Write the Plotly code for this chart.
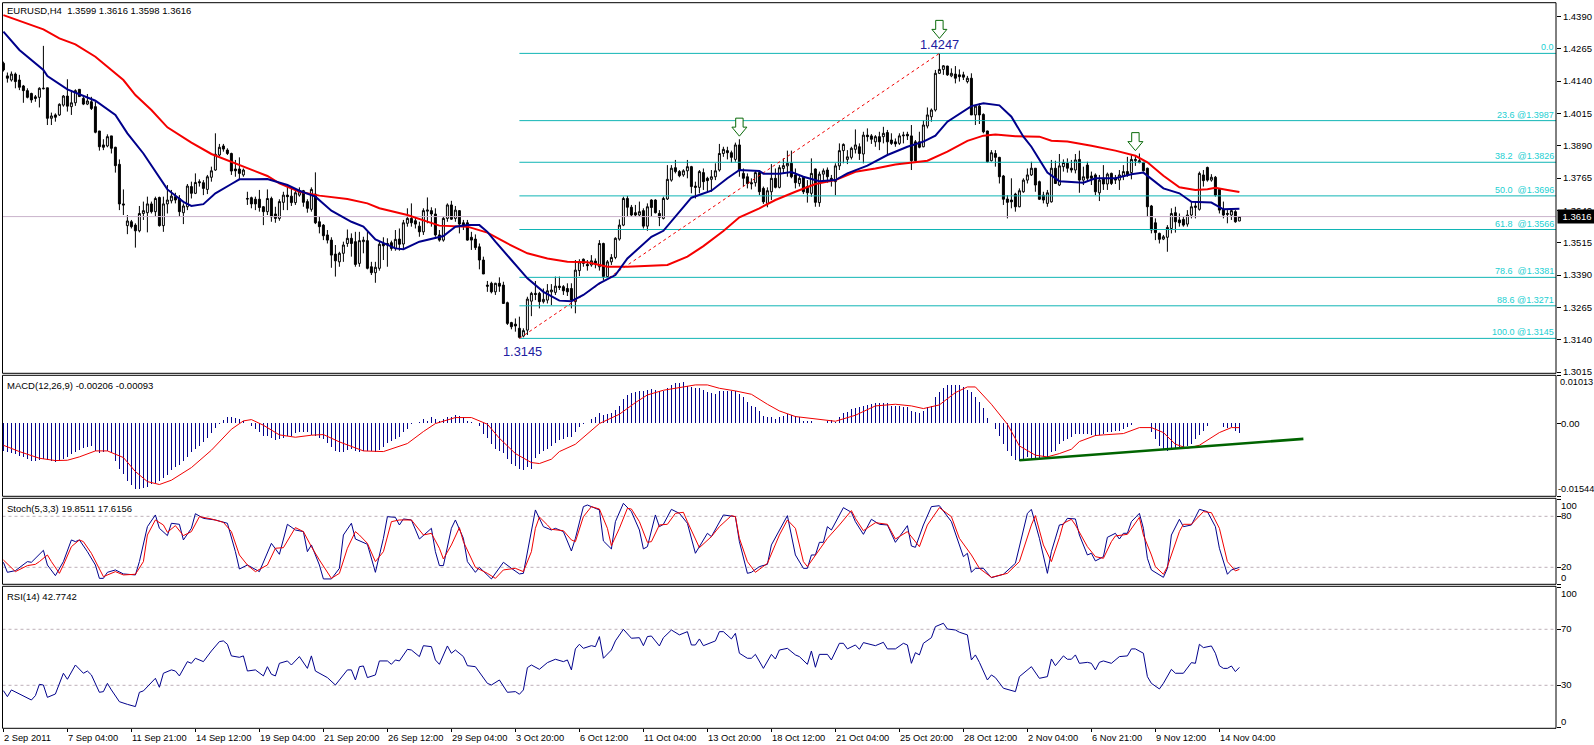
import plotly.graph_objects as go

opens = [
1.4209,1.4160,1.4144,1.4167,1.4144,1.4121,1.4103,1.4092,1.4079,1.4077,
1.4110,1.4114,1.3996,1.4009,1.4009,1.4047,1.4082,1.4041,1.4056,1.4108,
1.4073,1.4051,1.4060,1.4041,1.3947,1.3893,1.3889,1.3928,1.3884,1.3818,
1.3665,1.3581,1.3596,1.3583,1.3561,1.3628,1.3631,1.3665,1.3635,1.3690,
1.3581,1.3665,1.3677,1.3693,1.3686,1.3631,1.3654,1.3732,1.3706,1.3751,
1.3747,1.3721,1.3768,1.3796,1.3854,1.3889,1.3873,1.3860,1.3800,1.3800,
1.3777,1.3686,1.3689,1.3683,1.3683,1.3654,1.3635,1.3686,1.3626,1.3609,
1.3671,1.3699,1.3695,1.3670,1.3699,1.3716,1.3674,1.3644,1.3703,1.3596,
1.3583,1.3545,1.3525,1.3471,1.3441,1.3474,1.3512,1.3532,1.3519,1.3435,
1.3519,1.3523,1.3422,1.3399,1.3416,1.3512,1.3512,1.3515,1.3493,1.3529,
1.3510,1.3590,1.3609,1.3600,1.3579,1.3557,1.3637,1.3639,1.3626,1.3545,
1.3525,1.3609,1.3661,1.3609,1.3639,1.3592,1.3592,1.3536,1.3529,1.3499,
1.3448,1.3351,1.3358,1.3325,1.3358,1.3351,1.3283,1.3206,1.3200,1.3184,
1.3154,1.3177,1.3289,1.3319,1.3319,1.3287,1.3293,1.3325,1.3323,1.3347,
1.3345,1.3338,1.3338,1.3287,1.3407,1.3451,1.3431,1.3429,1.3444,1.3422,
1.3512,1.3384,1.3441,1.3458,1.3529,1.3583,1.3686,1.3652,1.3631,1.3622,
1.3639,1.3579,1.3680,1.3680,1.3628,1.3609,1.3684,1.3757,1.3805,1.3790,
1.3777,1.3793,1.3809,1.3734,1.3729,1.3786,1.3764,1.3760,1.3770,1.3796,
1.3860,1.3871,1.3863,1.3837,1.3893,1.3783,1.3770,1.3747,1.3747,1.3786,
1.3725,1.3667,1.3712,1.3764,1.3729,1.3802,1.3812,1.3822,1.3777,1.3744,
1.3768,1.3732,1.3706,1.3800,1.3670,1.3780,1.3796,1.3764,1.3751,1.3812,
1.3871,1.3837,1.3845,1.3876,1.3886,1.3858,1.3931,1.3928,1.3905,1.3925,
1.3925,1.3941,1.3912,1.3905,1.3899,1.3928,1.3934,1.3928,1.3905,1.3905,
1.3886,1.3966,1.4002,1.4028,1.4170,1.4185,1.4198,1.4160,1.4167,1.4164,
1.4164,1.4138,1.4151,1.4009,1.4043,1.4011,1.3947,1.3832,1.3860,1.3845,
1.3773,1.3684,1.3680,1.3703,1.3654,1.3712,1.3757,1.3777,1.3803,1.3751,
1.3699,1.3667,1.3673,1.3803,1.3738,1.3809,1.3822,1.3803,1.3796,1.3837,
1.3757,1.3815,1.3773,1.3777,1.3708,1.3764,1.3742,1.3783,1.3764,1.3757,
1.3773,1.3790,1.3786,1.3832,1.3832,1.3825,1.3803,1.3657,1.3592,1.3551,
1.3529,1.3536,1.3570,1.3631,1.3603,1.3605,1.3587,1.3622,1.3651,1.3644,
1.3777,1.3806,1.3757,1.3768,1.3721,1.3644,1.3628,1.3622,1.3635,1.3599]

highs = [
1.4215,1.4173,1.4177,1.4173,1.4164,1.4125,1.4112,1.4095,1.4086,1.4116,
1.4276,1.4114,1.4018,1.4015,1.4054,1.4086,1.4147,1.4105,1.4108,1.4108,
1.4086,1.4090,1.4079,1.4060,1.3947,1.3915,1.3934,1.3928,1.3886,1.3837,
1.3721,1.3622,1.3603,1.3590,1.3657,1.3674,1.3693,1.3674,1.3693,1.3693,
1.3693,1.3738,1.3719,1.3708,1.3699,1.3667,1.3742,1.3751,1.3783,1.3760,
1.3757,1.3777,1.3809,1.3938,1.3897,1.3897,1.3880,1.3863,1.3835,1.3845,
1.3802,1.3712,1.3693,1.3693,1.3719,1.3657,1.3721,1.3693,1.3654,1.3683,
1.3712,1.3738,1.3725,1.3725,1.3729,1.3719,1.3683,1.3729,1.3787,1.3618,
1.3587,1.3564,1.3536,1.3506,1.3480,1.3519,1.3566,1.3551,1.3557,1.3557,
1.3538,1.3557,1.3441,1.3441,1.3519,1.3536,1.3532,1.3523,1.3564,1.3570,
1.3603,1.3648,1.3667,1.3615,1.3596,1.3648,1.3690,1.3652,1.3648,1.3564,
1.3615,1.3667,1.3677,1.3657,1.3641,1.3603,1.3603,1.3557,1.3547,1.3512,
1.3461,1.3367,1.3364,1.3360,1.3381,1.3364,1.3287,1.3209,1.3222,1.3229,
1.3184,1.3306,1.3325,1.3367,1.3325,1.3338,1.3355,1.3355,1.3384,1.3384,
1.3351,1.3358,1.3358,1.3448,1.3451,1.3454,1.3448,1.3467,1.3454,1.3525,
1.3515,1.3448,1.3471,1.3536,1.3605,1.3693,1.3696,1.3661,1.3661,1.3674,
1.3648,1.3667,1.3683,1.3683,1.3641,1.3693,1.3815,1.3815,1.3835,1.3796,
1.3799,1.3835,1.3812,1.3751,1.3796,1.3802,1.3770,1.3796,1.3822,1.3897,
1.3886,1.3886,1.3871,1.3902,1.3915,1.3802,1.3783,1.3764,1.3796,1.3790,
1.3732,1.3729,1.3819,1.3802,1.3815,1.3841,1.3871,1.3871,1.3802,1.3777,
1.3770,1.3757,1.3841,1.3802,1.3790,1.3802,1.3806,1.3777,1.3822,1.3899,
1.3899,1.3873,1.3886,1.3953,1.3899,1.3944,1.3957,1.3935,1.3931,1.3944,
1.3963,1.3951,1.3938,1.3918,1.3938,1.3944,1.3944,1.3970,1.3912,1.3944,
1.3989,1.4038,1.4034,1.4183,1.4247,1.4202,1.4199,1.4189,1.4198,1.4185,
1.4176,1.4160,1.4170,1.4047,1.4054,1.4015,1.3948,1.3873,1.3873,1.3847,
1.3777,1.3699,1.3764,1.3708,1.3725,1.3764,1.3802,1.3828,1.3802,1.3755,
1.3712,1.3719,1.3835,1.3832,1.3858,1.3837,1.3841,1.3835,1.3858,1.3871,
1.3809,1.3828,1.3790,1.3783,1.3777,1.3815,1.3786,1.3786,1.3777,1.3796,
1.3815,1.3847,1.3854,1.3854,1.3860,1.3828,1.3805,1.3661,1.3609,1.3554,
1.3545,1.3583,1.3648,1.3654,1.3628,1.3615,1.3641,1.3674,1.3674,1.3790,
1.3796,1.3809,1.3780,1.3773,1.3725,1.3674,1.3641,1.3644,1.3641,1.3616]

lows = [
1.4177,1.4134,1.4138,1.4112,1.4105,1.4056,1.4073,1.4056,1.4060,1.4038,
1.4108,1.3970,1.3970,1.3983,1.4005,1.4041,1.4022,1.4009,1.4044,1.4080,
1.4047,1.4047,1.4028,1.3938,1.3871,1.3873,1.3884,1.3860,1.3786,1.3641,
1.3622,1.3548,1.3570,1.3496,1.3555,1.3603,1.3555,1.3628,1.3615,1.3577,
1.3557,1.3628,1.3667,1.3667,1.3615,1.3587,1.3641,1.3686,1.3703,1.3732,
1.3699,1.3703,1.3751,1.3793,1.3850,1.3867,1.3854,1.3777,1.3770,1.3757,
1.3770,1.3661,1.3648,1.3641,1.3635,1.3583,1.3622,1.3596,1.3592,1.3600,
1.3641,1.3641,1.3657,1.3661,1.3693,1.3654,1.3631,1.3635,1.3587,1.3551,
1.3525,1.3512,1.3418,1.3384,1.3422,1.3441,1.3499,1.3461,1.3422,1.3422,
1.3474,1.3412,1.3390,1.3360,1.3407,1.3448,1.3422,1.3484,1.3484,1.3484,
1.3493,1.3577,1.3577,1.3570,1.3538,1.3545,1.3590,1.3577,1.3538,1.3519,
1.3519,1.3596,1.3603,1.3596,1.3551,1.3564,1.3523,1.3487,1.3487,1.3412,
1.3394,1.3325,1.3319,1.3313,1.3325,1.3278,1.3197,1.3180,1.3171,1.3145,
1.3149,1.3158,1.3231,1.3293,1.3261,1.3280,1.3280,1.3274,1.3313,1.3332,
1.3313,1.3309,1.3261,1.3242,1.3386,1.3422,1.3407,1.3422,1.3416,1.3407,
1.3371,1.3381,1.3429,1.3451,1.3523,1.3579,1.3615,1.3615,1.3615,1.3615,
1.3570,1.3561,1.3615,1.3628,1.3579,1.3605,1.3680,1.3751,1.3783,1.3768,
1.3770,1.3764,1.3706,1.3686,1.3706,1.3719,1.3712,1.3712,1.3757,1.3790,
1.3847,1.3837,1.3824,1.3828,1.3770,1.3732,1.3725,1.3721,1.3732,1.3699,
1.3665,1.3652,1.3680,1.3725,1.3725,1.3783,1.3770,1.3764,1.3725,1.3732,
1.3703,1.3670,1.3693,1.3654,1.3654,1.3757,1.3747,1.3732,1.3699,1.3796,
1.3822,1.3819,1.3837,1.3860,1.3835,1.3822,1.3906,1.3897,1.3886,1.3873,
1.3899,1.3854,1.3893,1.3886,1.3893,1.3899,1.3912,1.3796,1.3828,1.3880,
1.3884,1.3957,1.3983,1.4022,1.4167,1.4164,1.4160,1.4155,1.4131,1.4138,
1.4144,1.4131,1.4009,1.3970,1.3974,1.3938,1.3824,1.3829,1.3809,1.3744,
1.3661,1.3609,1.3648,1.3635,1.3652,1.3708,1.3744,1.3773,1.3712,1.3680,
1.3667,1.3654,1.3670,1.3742,1.3734,1.3790,1.3786,1.3786,1.3783,1.3708,
1.3738,1.3751,1.3738,1.3699,1.3676,1.3719,1.3719,1.3738,1.3742,1.3719,
1.3757,1.3770,1.3760,1.3812,1.3822,1.3790,1.3615,1.3551,1.3525,1.3512,
1.3525,1.3480,1.3551,1.3554,1.3577,1.3577,1.3577,1.3609,1.3609,1.3639,
1.3732,1.3751,1.3751,1.3693,1.3628,1.3609,1.3590,1.3603,1.3592,1.3598]

closes = [
1.4183,1.4151,1.4167,1.4138,1.4116,1.4103,1.4077,1.4067,1.4073,1.4112,
1.4112,1.3996,1.4005,1.4000,1.4050,1.4082,1.4043,1.4056,1.4103,1.4080,
1.4051,1.4063,1.4034,1.3942,1.3886,1.3884,1.3925,1.3880,1.3813,1.3665,
1.3661,1.3599,1.3577,1.3561,1.3628,1.3639,1.3665,1.3635,1.3686,1.3581,
1.3665,1.3680,1.3695,1.3680,1.3635,1.3657,1.3734,1.3706,1.3748,1.3747,
1.3725,1.3770,1.3793,1.3857,1.3884,1.3877,1.3860,1.3792,1.3793,1.3783,
1.3796,1.3684,1.3665,1.3665,1.3651,1.3635,1.3686,1.3615,1.3609,1.3674,
1.3699,1.3693,1.3670,1.3708,1.3712,1.3671,1.3648,1.3721,1.3592,1.3577,
1.3542,1.3525,1.3467,1.3445,1.3474,1.3506,1.3532,1.3512,1.3431,1.3523,
1.3525,1.3416,1.3399,1.3420,1.3509,1.3503,1.3506,1.3493,1.3528,1.3509,
1.3592,1.3609,1.3592,1.3587,1.3557,1.3639,1.3641,1.3626,1.3545,1.3525,
1.3609,1.3661,1.3606,1.3641,1.3587,1.3583,1.3525,1.3525,1.3496,1.3448,
1.3394,1.3347,1.3325,1.3358,1.3347,1.3280,1.3203,1.3190,1.3193,1.3149,
1.3175,1.3297,1.3319,1.3315,1.3287,1.3296,1.3329,1.3332,1.3347,1.3342,
1.3329,1.3325,1.3293,1.3409,1.3441,1.3435,1.3426,1.3445,1.3435,1.3512,
1.3384,1.3441,1.3458,1.3532,1.3583,1.3686,1.3652,1.3622,1.3622,1.3635,
1.3579,1.3654,1.3651,1.3631,1.3613,1.3686,1.3760,1.3803,1.3790,1.3774,
1.3793,1.3809,1.3732,1.3729,1.3790,1.3751,1.3755,1.3770,1.3793,1.3860,
1.3876,1.3863,1.3845,1.3893,1.3796,1.3764,1.3744,1.3743,1.3786,1.3712,
1.3673,1.3716,1.3764,1.3729,1.3805,1.3813,1.3822,1.3770,1.3747,1.3764,
1.3712,1.3708,1.3783,1.3671,1.3780,1.3793,1.3770,1.3757,1.3812,1.3871,
1.3895,1.3847,1.3880,1.3893,1.3860,1.3931,1.3925,1.3915,1.3925,1.3905,
1.3938,1.3905,1.3899,1.3897,1.3928,1.3931,1.3928,1.3832,1.3832,1.3884,
1.3970,1.4009,1.4028,1.4170,1.4185,1.4199,1.4164,1.4170,1.4151,1.4157,
1.4155,1.4151,1.4009,1.4043,1.4009,1.3944,1.3828,1.3863,1.3845,1.3770,
1.3683,1.3671,1.3673,1.3654,1.3716,1.3757,1.3777,1.3803,1.3738,1.3683,
1.3680,1.3708,1.3803,1.3744,1.3812,1.3825,1.3803,1.3796,1.3835,1.3757,
1.3770,1.3764,1.3764,1.3712,1.3757,1.3742,1.3780,1.3744,1.3757,1.3777,
1.3790,1.3777,1.3837,1.3837,1.3825,1.3793,1.3654,1.3564,1.3554,1.3528,
1.3538,1.3574,1.3628,1.3596,1.3592,1.3583,1.3622,1.3654,1.3657,1.3783,
1.3755,1.3757,1.3768,1.3699,1.3641,1.3622,1.3625,1.3639,1.3596,1.3616]

ma20_bars = [0,4,10,11,16,23,28,31,35,38,41,45,47,50,53,57,59,66,71,74,78,82,87,90,93,98,100,104,110,113,116,119,121,123,127,131,
135,139,142,145,149,153,156,162,165,169,172,177,181,184,189,190,194,197,200,204,208,211,216,221,226,230,233,236,242,245,249,252,255,257,259,261,264,270,273,278,282,285,290,294,297,302,305,309]
ma20_vals = [1.4331,1.4260,1.4183,1.4159,1.4108,1.4064,1.4009,1.3938,1.3860,1.3790,1.3721,1.3673,1.3657,1.3664,1.3706,1.3742,1.3760,1.3761,1.3738,1.3716,1.3693,1.3639,1.3596,1.3577,1.3528,1.3493,1.3490,1.3519,1.3541,1.3577,1.3583,1.3583,1.3557,1.3519,1.3448,1.3377,
1.3325,1.3291,1.3289,1.3313,1.3358,1.3390,1.3454,1.3538,1.3561,1.3635,1.3689,1.3716,1.3764,1.3796,1.3792,1.3782,1.3782,1.3788,1.3770,1.3753,1.3757,1.3783,1.3813,1.3854,1.3886,1.3906,1.3929,1.3983,1.4043,1.4054,1.4046,1.4002,1.3925,1.3886,1.3837,1.3786,1.3753,1.3747,1.3764,1.3764,1.3780,1.3786,1.3725,1.3706,1.3673,1.3670,1.3644,1.3646]

ma50_bars = [0,4,10,14,18,23,27,30,33,37,41,47,52,58,66,69,74,79,86,91,94,101,105,109,116,121,126,131,136,141,146,151,156,162,166,171,175,180,184,189,193,198,203,208,213,218,223,231,236,241,245,248,253,259,262,266,272,278,283,286,290,294,298,301,303,306,309]
ma50_vals = [1.4395,1.4373,1.4340,1.4305,1.4282,1.4234,1.4183,1.4144,1.4086,1.4028,1.3961,1.3902,1.3858,1.3822,1.3773,1.3744,1.3712,1.3697,1.3684,1.3667,1.3648,1.3622,1.3600,1.3581,1.3577,1.3554,1.3512,1.3474,1.3454,1.3441,1.3439,1.3422,1.3422,1.3427,1.3429,1.3461,1.3502,1.3560,1.3613,1.3648,1.3680,1.3712,1.3742,1.3757,1.3789,1.3802,1.3817,1.3832,1.3867,1.3909,1.3929,1.3933,1.3927,1.3925,1.3909,1.3906,1.3890,1.3871,1.3851,1.3826,1.3774,1.3729,1.3719,1.3722,1.3727,1.3719,1.3711]

macd_hist = [
-.00584,-.00620,-.00641,-.00655,-.00690,-.00725,-.00760,-.00796,-.00810,-.00781,
-.00760,-.00781,-.00810,-.00831,-.00810,-.00760,-.00711,-.00655,-.00620,-.00570,
-.00528,-.00500,-.00479,-.00598,-.00641,-.00620,-.00598,-.00641,-.00796,-.00972,
-.01077,-.01232,-.01302,-.01394,-.01394,-.01373,-.01345,-.01288,-.01274,-.01232,
-.01162,-.01091,-.00993,-.00936,-.00880,-.00796,-.00711,-.00620,-.00549,-.00479,
-.00408,-.00317,-.00211,-.00106,-.00021,.00063,.00120,.00120,.00106,.00085,
.00035,-.00007,-.00070,-.00127,-.00197,-.00268,-.00268,-.00317,-.00359,-.00338,
-.00317,-.00268,-.00268,-.00211,-.00197,-.00197,-.00197,-.00246,-.00268,-.00317,
-.00338,-.00429,-.00514,-.00598,-.00620,-.00620,-.00570,-.00549,-.00598,-.00620,
-.00598,-.00598,-.00598,-.00620,-.00570,-.00514,-.00429,-.00373,-.00338,-.00303,
-.00197,-.00127,-.00021,-.00007,.00014,.00085,.00049,.00120,.00085,.00049,
.00085,.00134,.00120,.00169,.00141,.00120,.00049,.00014,-.00007,-.00056,
-.00232,-.00317,-.00444,-.00549,-.00584,-.00641,-.00760,-.00866,-.00901,-.00972,
-.00993,-.00936,-.00972,-.00739,-.00655,-.00598,-.00549,-.00479,-.00429,-.00359,
-.00338,-.00289,-.00289,-.00197,-.00092,-.00021,0,.00085,.00120,.00204,
.00169,.00190,.00211,.00275,.00366,.00507,.00591,.00634,.00662,.00669,
.00669,.00697,.00718,.00697,.00669,.00683,.00739,.00810,.00845,.00852,
.00859,.00788,.00753,.00739,.00739,.00697,.00648,.00627,.00612,.00669,
.00683,.00669,.00683,.00683,.00612,.00542,.00436,.00366,.00331,.00260,
.00155,.00120,.00120,.00085,.00120,.00155,.00190,.00176,.00155,.00120,
.00049,.00035,.00049,0,0,.00007,.00035,.00063,.00014,.00120,
.00204,.00225,.00296,.00317,.00331,.00359,.00387,.00401,.00415,.00415,
.00415,.00415,.00366,.00366,.00366,.00331,.00345,.00246,.00225,.00204,
.00260,.00331,.00366,.00542,.00648,.00739,.00803,.00810,.00810,.00810,
.00767,.00697,.00648,.00542,.00436,.00317,.00106,0,-.00127,-.00268,
-.00444,-.00598,-.00690,-.00781,-.00810,-.00796,-.00711,-.00760,-.00760,-.00760,
-.00725,-.00711,-.00620,-.00584,-.00444,-.00387,-.00338,-.00289,-.00232,-.00232,
-.00232,-.00232,-.00246,-.00268,-.00246,-.00232,-.00197,-.00183,-.00162,-.00162,
-.00127,-.00077,-.00035,0,.00007,.00007,-.00007,-.00197,-.00338,-.00479,
-.00549,-.00598,-.00570,-.00549,-.00514,-.00514,-.00479,-.00444,-.00338,-.00246,
-.00162,-.00056,0,-.00007,-.00007,-.00077,-.00106,-.00092,-.00162,-.00206]

signal_bars = [0,4,9,13,16,19,23,26,30,33,36,39,42,47,52,57,60,62,65,69,73,77,80,84,90,95,101,105,108,113,117,121,124,128,
132,134,137,139,143,146,149,154,158,161,165,170,173,176,179,183,187,191,194,198,203,208,213,218,223,227,230,234,238,241,243,247,251,254,258,261,264,
267,269,273,275,280,284,287,290,293,296,299,304,307,309]
signal_vals = [-.00465,-.00599,-.00740,-.00789,-.00782,-.00711,-.00585,-.00585,-.00725,-.01021,-.01233,-.01295,-.01204,-.00937,-.00570,-.00127,.00049,.00077,-.00042,-.00246,-.00296,-.00253,-.00239,-.00394,-.00585,-.00599,-.00429,-.00176,-.00007,.00120,.00120,-.00021,-.00317,-.00641,
-.00831,-.00852,-.00760,-.00599,-.00444,-.00218,-.00007,.00190,.00436,.00598,.00697,.00767,.00810,.00810,.00739,.00683,.00612,.00401,.00260,.00141,.00099,.00042,.00169,.00366,.00401,.00366,.00310,.00387,.00648,.00767,.00767,.00401,-.00021,-.00479,-.00676,-.00711,-.00641,
-.00549,-.00387,-.00260,-.00246,-.00218,-.00092,-.00092,-.00197,-.00444,-.00528,-.00465,-.00197,-.00092,-.00093]

macd_trend_bars = [254,325]
macd_trend_vals = [-.00781,-.00331]

stoch_k_bars = [0,1,3,6,7,9,10,11,13,15,17,18,19,21,23,24,25,26,28,30,33,34,36,38,39,41,42,44,45,47,48,50,53,56,58,59,61,64,66,67,69,71,73,75,76,77,79,80,82,84,85,87,88,91,93,95,96,98,99,100,102,104,107,108,109,110,112,113,115,116,118,119,122,125,127,129,130,132,
133,135,137,138,140,142,143,145,146,149,150,152,153,155,157,159,160,161,163,164,165,167,169,171,173,176,177,180,183,184,186,187,189,191,192,196,198,200,201,202,203,204,205,206,207,210,212,213,215,217,219,221,223,226,227,228,230,232,234,237,240,241,242,243,245,247,250,253,256,257,259,261,262,264,
265,266,268,269,271,272,273,275,276,278,279,280,281,282,284,285,286,287,290,291,292,294,295,297,299,301,303,304,306,307,309]
stoch_k_vals = [25.9,14.1,16.1,26.7,25.9,35.3,40,22.7,10.2,26.7,52.2,50.2,52.2,38.4,22.7,7,7,14.1,16.9,12.2,11,26.7,67.8,81.6,65.9,57.3,71.8,70.6,52.2,65.9,83.1,77.6,75.7,71.8,38.4,18,22.7,14.9,36.5,48.2,35.3,70.6,63.9,62,38.4,46.3,22.7,6.3,6.3,18.8,58,71.8,53.3,47.1,14.1,54.1,79.6,78.8,69.8,76.9,75.7,53.3,65.9,38.4,22,22,65.9,75.7,54.1,26.7,14.1,20,6.3,25.9,18.8,12.2,12.9,60,
87.5,67.8,63.9,65.9,62,39.2,54.1,91.4,93.3,87.5,51,41.6,73.7,95.3,85.5,63.9,41.6,44.3,81.6,67.8,70.6,88.2,83.5,71.8,36.5,60,56.1,81.6,79.6,50.2,12.9,14.1,20.8,23.5,46.3,80.8,34.5,18.8,18.8,34.5,34.5,49.4,49.4,67.8,63.9,90.2,84.7,73.7,58.8,76.5,70.6,69.8,49.4,69,45.1,43.5,69.8,91.4,92.5,73.7,32.5,36.5,14.1,18.8,18.8,7.8,11.8,24.7,83.5,88.2,54.1,12.9,38.4,69.8,
70.6,77.6,76.9,58,34.5,36.5,27.5,32.5,55.3,60,53.3,60,60,73.7,83.5,65.9,30.6,16.9,8.2,18.8,58,76.5,67.8,69.8,88.2,85.5,67.8,42.4,11.8,16.9,19.9]

stoch_d_bars = [0,2,3,6,8,9,11,12,14,15,17,19,20,22,24,25,28,30,33,35,36,38,40,41,43,45,47,49,52,55,57,59,61,63,66,68,70,72,73,75,77,79,82,84,86,88,89,91,93,95,97,99,102,105,107,109,110,112,114,115,117,118,121,123,125,128,130,132,
133,134,136,137,140,142,143,145,147,149,151,152,154,156,157,159,161,162,164,166,168,170,171,173,174,177,179,182,183,184,186,188,191,194,196,198,200,201,204,206,209,212,213,215,218,221,223,226,229,231,234,237,239,242,244,247,251,254,257,258,260,262,264,
265,267,268,271,273,275,277,278,281,284,285,287,288,290,291,294,295,297,300,302,304,306,308,309]
stoch_d_vals = [28.6,18.8,14.9,22,23.5,26.7,34.5,26.7,12.9,22.7,44.3,52.2,50.2,36.5,18.8,9,14.9,11,11.8,26.7,58,75.7,69.8,61.2,69,57.3,62,79.6,76.9,72.9,62,34.5,22.7,14.9,22.7,42.4,43.1,58,66.7,62,44.3,28.6,7,12.9,42.4,62,58,48.2,26.7,38.4,73.7,75.7,75.7,58,60,42.4,29.8,46.3,66.7,50.2,30.6,20,12.9,7,16.9,18.8,14.9,38.4,
65.9,79.2,69.8,64.7,63.1,52.2,50.2,79.6,91.4,88.6,65.9,45.5,65.9,89.4,88.6,73.7,49.4,50.2,69.8,70.6,83.5,84.7,73.7,52.2,43.1,56.1,67.8,80.8,79.6,54.1,26.7,14.1,24.7,58,75.7,65.9,26.7,20.8,40.4,54.1,69.8,86.7,77.6,63.1,72.5,70.6,53.3,62,44.3,69.8,90.2,79.6,54.1,34.5,18.8,8.2,12.9,26.7,69.8,80.8,46.3,26.7,54.9,
71.8,76.5,69.8,44.3,32.5,30.6,50.2,56.9,58.8,78.8,58,34.5,20.8,11.8,20.8,62,70.6,70.6,85.5,84.3,65.9,26.7,15.7,17.6]

rsi_bars = [0,1,2,7,8,9,10,11,13,15,16,18,20,21,22,24,25,26,27,29,31,33,34,35,38,39,40,42,43,44,46,47,48,50,52,54,55,56,57,59,60,61,63,65,66,67,68,69,71,72,74,76,77,78,81,83,84,86,87,88,89,90,91,93,94,96,97,98,99,101,102,104,105,107,108,109,111,112,113,115,116,118,121,122,124,125,126,128,129,130,131,132,134,136,138,140,141,142,143,144,145,147,148,149,150,152,153,155,157,159,160,161,162,164,165,167,169,171,172,173,174,175,178,179,180,182,183,184,186,187,188,190,192,193,194,196,198,
199,201,202,203,204,206,207,209,210,211,213,214,215,218,220,221,223,225,226,227,228,229,230,232,233,235,236,238,239,241,242,243,244,246,247,248,250,253,254,257,259,261,262,263,265,266,267,268,269,271,272,273,274,275,277,279,281,282,283,285,286,287,289,290,292,293,295,297,298,299,300,302,303,304,305,306,307,308,309]
rsi_vals = [26.2,21.9,26.7,19.5,22.6,30.7,30.2,21.4,23.8,38.6,34.3,44.5,38.6,40.2,37.4,25,25.5,31.4,26.7,18.3,16.4,14.8,25,26,35,28.6,38.6,41,40.2,36.7,46.9,45.7,49.3,46.9,54.5,61.2,61.7,59.3,51,50,51,40.2,41,36.7,43.3,37.9,36.7,45.7,47.4,44.5,50.5,42.1,51,40.2,35.5,30.2,33.8,41,41,33.8,43.3,43.8,35.5,37.4,47.4,47.4,45,48.1,47.4,55.7,55.2,50.5,58.3,57.6,48.1,45,58.1,52.9,55.2,50.5,44,43.3,31.4,30.2,33.8,29,25,25.5,23.6,26.7,42.6,44.5,41.4,46.2,48.6,46.9,48.1,41,56,59.3,56.4,58.3,57.6,64.8,49.3,55.2,61.7,70,63.6,64,58.3,64.8,65.2,58.1,64,69.5,66,68.3,58.8,58.8,63.1,58.3,61.7,68.3,68.3,63.1,67.1,52.9,49.3,49.3,52.1,42.1,52.1,48.8,55.2,56.4,51.7,
50.5,45,54.5,42.9,52.1,52.1,48.1,60,60,56,58.8,55.7,60.5,58.3,60.7,56,56,60,58.8,45.7,53.3,51.7,60,64,71.9,74.3,70.2,69.5,67.9,66,48.1,51.7,46.4,33.8,37.4,35.5,27.9,25.5,36.2,43.3,35,36.2,48.8,44,51,48.6,48.6,51.7,45.7,46.4,45.7,41,46.4,47.4,45.7,50.5,51,56,56,52.9,36.2,31.4,27.4,31.4,41.4,38.6,38.6,46.2,45.7,59.3,56.9,58.1,52.9,44,42.1,42.1,43.8,39.8,42.8]

fib_pct = ["0.0","23.6 @1.3987","38.2\u00a0 @1.3826","50.0\u00a0 @1.3696","61.8\u00a0 @1.3566","78.6\u00a0 @1.3381","88.6 @1.3271","100.0 @1.3145"]
fib_levels = [1.4247,1.3987,1.3826,1.3696,1.3566,1.3381,1.3271,1.3145]
swing_bars = [129,234]
swing_prices = [1.3145,1.4247]
arrow_bars = [184,234,283]
arrow_tips = [1.3927,1.4305,1.3871]
last_price = 1.3616
price_ticks = [1.4390,1.4265,1.4140,1.4015,1.3890,1.3765,1.3640,1.3515,1.3390,1.3265,1.3140,1.3015]
date_labels = ["2 Sep 2011","7 Sep 04:00","11 Sep 21:00","14 Sep 12:00","19 Sep 04:00","21 Sep 20:00","26 Sep 12:00","29 Sep 04:00","3 Oct 20:00","6 Oct 12:00","11 Oct 04:00","13 Oct 20:00","18 Oct 12:00","21 Oct 04:00","25 Oct 20:00","28 Oct 12:00","2 Nov 04:00","6 Nov 21:00","9 Nov 12:00","14 Nov 04:00"]
date_bars = [16*k for k in range(len(date_labels))]

W, H = 1594, 745
L, R = 2.5, 1556.0
panes = {"main": (2.7, 373.3), "macd": (375.3, 496.3), "stoch": (498.3, 584.3), "rsi": (586.3, 728.3)}
FONT = "Liberation Sans"
TXT = 9.5
NAVY = "#00008B"
FIB = "#10B5B5"
LEVEL = "#bdb0b8"
x_left = (L - 3.4) / 4
x_right = (R - 3.4) / 4


def dom(name):
    t, b = panes[name]
    return [1 - b / H, 1 - t / H]


def py(px):
    return 1 - px / H


bars = list(range(len(opens)))
fig = go.Figure()

# main pane
fig.add_trace(go.Scatter(x=[x_left, x_right], y=[last_price] * 2, mode="lines", line=dict(color="#c9b3cb", width=1), yaxis="y"))
for lv in fib_levels:
    fig.add_trace(go.Scatter(x=[swing_bars[0], x_right], y=[lv, lv], mode="lines", line=dict(color=FIB, width=1), yaxis="y"))
fig.add_trace(go.Scatter(x=swing_bars, y=swing_prices, mode="lines", line=dict(color="#f00000", width=1, dash="dot"), yaxis="y"))
fig.add_trace(go.Candlestick(x=bars, open=opens, high=highs, low=lows, close=closes, yaxis="y", whiskerwidth=0,
                             increasing=dict(line=dict(color="black", width=1), fillcolor="white"),
                             decreasing=dict(line=dict(color="black", width=1), fillcolor="black")))
fig.add_trace(go.Scatter(x=ma50_bars, y=ma50_vals, mode="lines", line=dict(color="#f50000", width=2), yaxis="y"))
fig.add_trace(go.Scatter(x=ma20_bars, y=ma20_vals, mode="lines", line=dict(color=NAVY, width=2), yaxis="y"))

# macd pane
fig.add_trace(go.Bar(x=bars, y=macd_hist, width=0.25, marker=dict(color="rgba(0,0,139,0.99)", line=dict(width=0)), yaxis="y2"))
fig.add_trace(go.Scatter(x=signal_bars, y=signal_vals, mode="lines", line=dict(color="#f00000", width=1), yaxis="y2"))
fig.add_trace(go.Scatter(x=macd_trend_bars, y=macd_trend_vals, mode="lines", line=dict(color="#006400", width=2.6), yaxis="y2"))

# stochastic pane
for lv in (80, 20):
    fig.add_trace(go.Scatter(x=[x_left, x_right], y=[lv, lv], mode="lines", line=dict(color=LEVEL, width=1, dash="3px,3px"), yaxis="y3"))
fig.add_trace(go.Scatter(x=stoch_k_bars, y=stoch_k_vals, mode="lines", line=dict(color=NAVY, width=1), yaxis="y3"))
fig.add_trace(go.Scatter(x=stoch_d_bars, y=stoch_d_vals, mode="lines", line=dict(color="#f00000", width=1), yaxis="y3"))

# rsi pane
for lv in (70, 30):
    fig.add_trace(go.Scatter(x=[x_left, x_right], y=[lv, lv], mode="lines", line=dict(color=LEVEL, width=1, dash="3px,3px"), yaxis="y4"))
fig.add_trace(go.Scatter(x=rsi_bars, y=rsi_vals, mode="lines", line=dict(color=NAVY, width=1), yaxis="y4"))

ann = []


def note(text, px, pyy, anchor="left", color="black", size=TXT, **kw):
    ann.append(dict(text=text, x=px / W, y=py(pyy), xref="paper", yref="paper", xanchor=anchor, yanchor="middle",
                    showarrow=False, borderpad=0, font=dict(family=FONT, size=size, color=color), **kw))


note("EURUSD,H4\u00a0 1.3599 1.3616 1.3598 1.3616", 6, 10.7)
note("MACD(12,26,9) -0.00206 -0.00093", 6, 385.7)
note("Stoch(5,3,3) 19.8511 17.6156", 6, 508.3)
note("RSI(14) 42.7742", 6, 596.7)
note("1.3145", 522.6, 351, anchor="center", color="#2020a0", size=12.8)
note("1.4247", 939, 44, anchor="center", color="#2020a0", size=12.8)
for text, lv in zip(fib_pct, fib_levels):
    ann.append(dict(text=text, x=1555 / W, y=lv, xref="paper", yref="y", xanchor="right", yanchor="bottom",
                    showarrow=False, borderpad=0, font=dict(family=FONT, size=9, color="#22CFD2")))
for text, pyy, lx in [("0.01013", 382.3, 1559), ("0.00", 423.8, 1560), ("-0.01544", 489.3, 1556.5),
                      ("100", 505.3, 1560), ("80", 515.7, 1560), ("20", 566.7, 1560), ("0", 577.3, 1560),
                      ("100", 593.7, 1560), ("70", 628.7, 1560), ("30", 684.3, 1560), ("0", 721.3, 1560)]:
    note(text, lx, pyy, size=9.2 if len(text) > 4 else TXT)
ann.append(dict(text="1.3616", x=1557 / W, y=last_price, xref="paper", yref="y", xanchor="left", yanchor="middle",
                showarrow=False, bgcolor="black", borderpad=1, width=36,
                font=dict(family=FONT, size=TXT, color="white")))
for text, b in zip(date_labels, date_bars):
    ann.append(dict(text=text, x=b, y=py(737.7), xref="x", yref="paper", xanchor="left", yanchor="middle",
                    showarrow=False, borderpad=0, font=dict(family=FONT, size=9.3, color="black")))

shapes = []
for name, (t, b) in panes.items():
    shapes.append(dict(type="rect", xref="paper", yref="paper", x0=L / W, x1=R / W, y0=py(b), y1=py(t),
                       line=dict(color="black", width=1), fillcolor="rgba(0,0,0,0)", layer="above"))
arrow_path = "M -3.7 18 L 3.7 18 L 3.7 9 L 7.5 9 L 0 0 L -7.5 9 L -3.7 9 Z"
for b, tip in zip(arrow_bars, arrow_tips):
    shapes.append(dict(type="path", xref="x", yref="y", xsizemode="pixel", ysizemode="pixel", xanchor=b, yanchor=tip,
                       path=arrow_path, fillcolor="white", line=dict(color="#0a6a0a", width=1), layer="above"))

axis_common = dict(showgrid=False, zeroline=False, showline=False, side="right", anchor="x", ticks="outside",
                   ticklen=4, tickcolor="black", tickfont=dict(family=FONT, size=TXT, color="black"))

fig.update_layout(
    width=W, height=H, margin=dict(l=0, r=0, t=0, b=0, autoexpand=False), paper_bgcolor="white", plot_bgcolor="white",
    showlegend=False, hovermode=False, barmode="overlay", bargap=0,
    xaxis=dict(domain=[L / W, R / W], range=[x_left, x_right], anchor="y4", showgrid=False, zeroline=False,
               rangeslider=dict(visible=False), ticks="outside", ticklen=3, tickcolor="black",
               tickvals=date_bars, ticktext=[""] * len(date_bars)),
    yaxis=dict(domain=dom("main"), range=[1.3010, 1.4443], tickvals=price_ticks,
               ticktext=[f"{v:.4f}" for v in price_ticks], **axis_common),
    yaxis2=dict(domain=dom("macd"), range=[-0.01544, 0.01013], tickvals=[-0.01544, 0, 0.01013],
                ticktext=["", "", ""], **axis_common),
    yaxis3=dict(domain=dom("stoch"), range=[0, 101.2], tickvals=[0, 20, 80, 100], ticktext=["", "", "", ""], **axis_common),
    yaxis4=dict(domain=dom("rsi"), range=[-0.7, 100.7], tickvals=[0, 30, 70, 100], ticktext=["", "", "", ""], **axis_common),
    annotations=ann, shapes=shapes,
)

fig.write_html("out.html", post_script="document.body.style.margin='0';", config={"displayModeBar": False})
